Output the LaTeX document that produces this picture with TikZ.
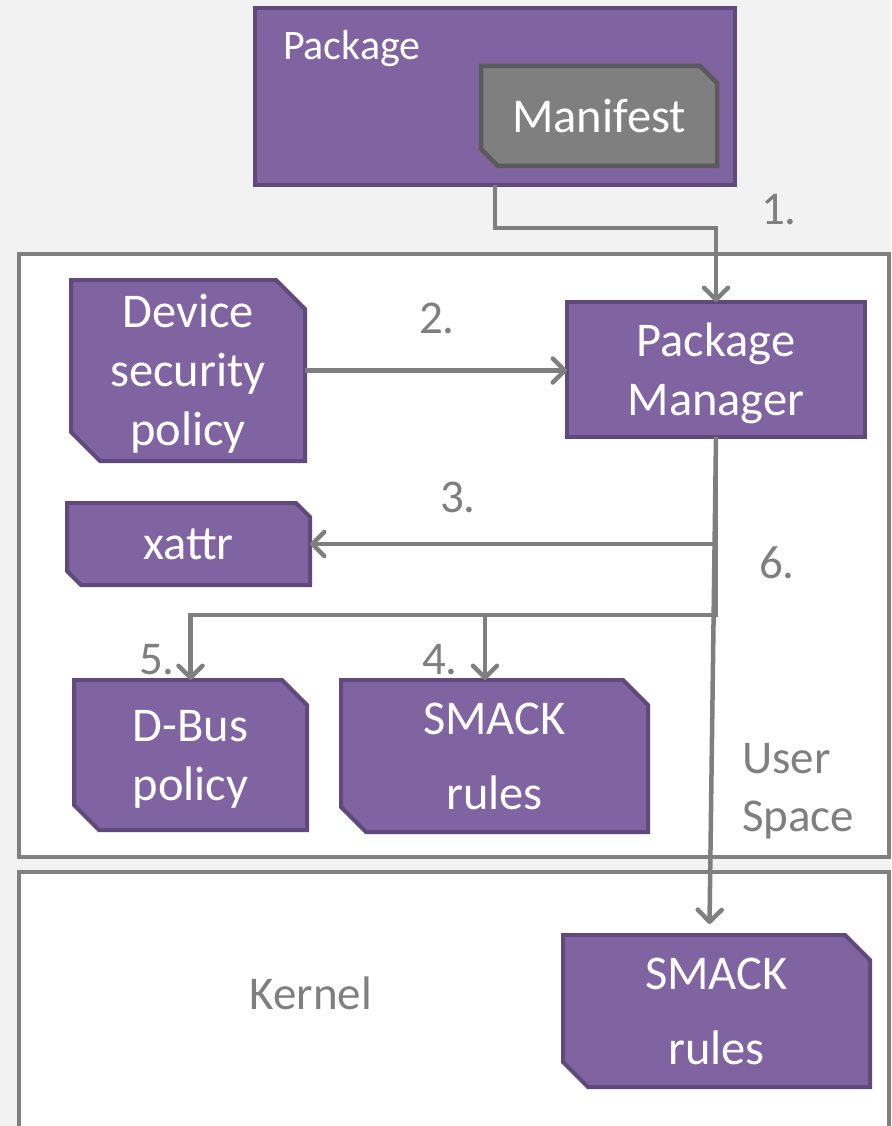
\documentclass[tikz,border=0pt]{standalone}
\usepackage{fontspec}
\setmainfont{Carlito}
\usetikzlibrary{arrows.meta,calc}
\definecolor{pagebg}{HTML}{F2F2F2}
\definecolor{framegray}{HTML}{808080}
\definecolor{linegray}{HTML}{7F7F7F}
\definecolor{purplefill}{HTML}{8064A2}
\definecolor{purpleedge}{HTML}{5F4A7B}
\definecolor{manifestfill}{HTML}{7F7F7F}
\definecolor{manifestedge}{HTML}{5A5A5A}
\pgfdeclarelayer{back}
\pgfdeclarelayer{shapes}
\pgfsetlayers{back,shapes,main}
% outline of a box with the top-right and bottom-left corners snipped off
\newcommand\snipoutline[3]{%
  \begin{pgfonlayer}{shapes}
    \filldraw[#3] (#1.north west) -- ([xshift=-#2pt]#1.north east)
      -- ([yshift=-#2pt]#1.north east) -- (#1.south east)
      -- ([xshift=#2pt]#1.south west) -- ([yshift=#2pt]#1.south west) -- cycle;
  \end{pgfonlayer}}
% plain rectangular outline of a box
\newcommand\rectoutline[2]{%
  \begin{pgfonlayer}{shapes}
    \filldraw[#2] (#1.north west) rectangle (#1.south east);
  \end{pgfonlayer}}
\tikzset{
  boxfont/.style={font=\fontsize{48.5}{59}\selectfont},
  labelfont/.style={font=\fontsize{47}{58}\selectfont},
  boxtext/.style={rectangle, inner sep=0pt, outer sep=0pt, text=white,
    align=center, boxfont},
  purplestyle/.style={fill=purplefill, draw=purpleedge, line width=4pt, line join=miter},
  greystyle/.style={fill=manifestfill, draw=manifestedge, line width=4.5pt, line join=miter},
  region/.style={fill=white, draw=framegray, line width=4pt},
  steplabel/.style={text=linegray, labelfont, inner sep=0pt},
  conn/.style={draw=linegray, line width=4.5pt},
  arr/.style={conn, -{Straight Barb[length=12pt, width=24pt, round]}},
}
\begin{document}
\begin{tikzpicture}[x=1pt, y=-1pt]
  \useasboundingbox (0,0) rectangle (891,1126);

  % page and the user space / kernel regions
  \begin{pgfonlayer}{back}
    \fill[pagebg] (0,0) rectangle (891,1126);
    \draw[region] (19,254) rectangle (889,857);
    \draw[region] (19,872) rectangle (889,1140);
  \end{pgfonlayer}

  % boxes
  \node[boxtext, minimum width=480pt, minimum height=177pt] (package) at (495,96.5) {};
  \node[boxtext, anchor=base west] (packagelabel) at (283,60)
    {\fontsize{42}{50}\selectfont Package};
  \node[boxtext, minimum width=236pt, minimum height=100pt, text depth=-2pt] (manifest) at (599,116) {Manifest};
  \node[boxtext, minimum width=298pt, minimum height=135pt, text depth=-2pt] (pm) at (716,369.5) {Package\\Manager};
  \node[boxtext, minimum width=234pt, minimum height=181pt, text depth=2pt] (dev) at (188,370.5) {Device\\security\\policy};
  \node[boxtext, minimum width=243pt, minimum height=82pt, text depth=-6pt] (xattr) at (188.5,544) {xattr};
  \node[boxtext, minimum width=233pt, minimum height=150pt, text depth=-4pt] (dbus) at (190.5,755) {D-Bus\\policy};
  \node[boxtext, minimum width=307pt, minimum height=152pt, text depth=-6pt] (smack) at (494.5,756) {SMACK\\[16pt]rules};
  \node[boxtext, minimum width=307pt, minimum height=152pt, text depth=-6pt] (ksmack) at (716.5,1011) {SMACK\\[16pt]rules};

  \rectoutline{package}{purplestyle}
  \snipoutline{manifest}{17}{greystyle}
  \rectoutline{pm}{purplestyle}
  \snipoutline{dev}{29}{purplestyle}
  \snipoutline{xattr}{14}{purplestyle}
  \snipoutline{dbus}{25}{purplestyle}
  \snipoutline{smack}{25}{purplestyle}
  \snipoutline{ksmack}{25}{purplestyle}

  % region names
  \node[steplabel, anchor=west, align=left] (userspace) at (742,791) {User\\Space};
  \node[steplabel] (kernel) at (311,993) {Kernel};

  % junction points
  \coordinate (fork) at (716,615);
  \coordinate (tap4) at (485,615);

  % connectors
  \draw[arr] ([xshift=240pt]package.south west) -- ++(0,43) -| (pm.north);
  \draw[arr] (dev.east) -- (dev.east -| pm.west);
  \draw[arr] (pm.south |- xattr.east) -- (xattr.east);
  \draw[arr] (pm.south) -- (fork) -| (dbus.north);
  \draw[arr] (tap4) -- (tap4 |- smack.north);
  \draw[arr] (pm.south) -- ([xshift=-7pt, yshift=11pt]ksmack.north);

  % step numbers
  \node[steplabel] (s1) at (779,210) {1.};
  \node[steplabel] (s2) at (437,318) {2.};
  \node[steplabel] (s3) at (458,497) {3.};
  \node[steplabel] (s6) at (777,563) {6.};
  \node[steplabel] (s5) at (157,660) {5.};
  \node[steplabel] (s4) at (440,660) {4.};
\end{tikzpicture}
\end{document}
